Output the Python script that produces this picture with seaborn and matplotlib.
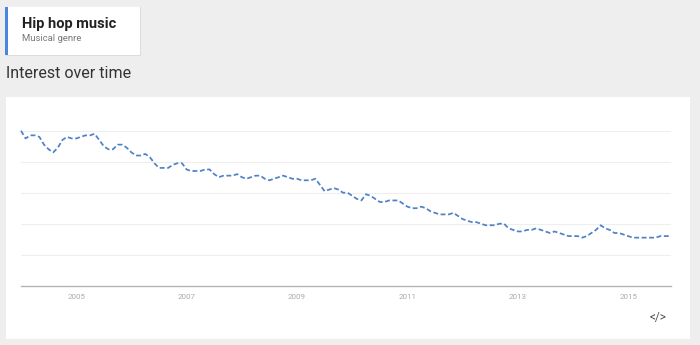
import numpy as np
import pandas as pd
import matplotlib
matplotlib.use("Agg")
import matplotlib.pyplot as plt
from matplotlib.patches import Rectangle
import seaborn as sns

# ---- data (monthly search interest, Jan 2004 .. Oct 2015) ----
start_year = 2004
interest = [100, 95, 97, 97, 96, 91, 88, 86, 89, 94, 96, 95,
            95, 96, 97, 97, 98, 94, 90, 88, 88, 91, 91, 89,
            86, 84, 84, 85, 83, 79, 76, 76, 76, 78, 79, 79,
            75, 74, 74, 74, 75, 75, 72, 70, 71, 71, 71, 72,
            70, 69, 70, 71, 71, 69, 68, 69, 70, 71, 70, 69,
            69, 68, 68, 68, 69, 65, 61, 62, 63, 62, 60, 60,
            58, 56, 55, 59, 58, 56, 54, 54, 55, 55, 55, 53,
            51, 50, 50, 51, 50, 48, 47, 46, 46, 46, 47, 45,
            43, 42, 41, 41, 40, 39, 39, 39, 40, 40, 37, 36,
            35, 35, 36, 36, 37, 36, 35, 34, 35, 34, 33, 32,
            32, 32, 31, 32, 34, 36, 39, 37, 36, 34, 34, 33,
            32, 31, 31, 31, 31, 31, 31, 32, 32, 32]
tick_years = [2005, 2007, 2009, 2011, 2013, 2015]
title = "Hip hop music"
subtitle = "Musical genre"
section = "Interest over time"

df = pd.DataFrame({"month": np.arange(len(interest)), "interest": interest})

# ---- figure ----
W, H = 700, 345
sns.set_theme(style="white")
plt.rcParams["font.family"] = ["Roboto", "DejaVu Sans"]
fig = plt.figure(figsize=(W / 100, H / 100), dpi=100, facecolor="#eeeeee")

def fx(px):
    return px / W

def fy(py):
    return 1 - py / H

# white chart panel
fig.patches.append(Rectangle((fx(6), fy(339)), fx(690) - fx(6), fy(97) - fy(339),
                             transform=fig.transFigure, facecolor="white",
                             edgecolor="none", zorder=0))
# header card shadow + card + blue left bar
fig.patches.append(Rectangle((fx(6), fy(56)), fx(141) - fx(6), fy(7) - fy(56),
                             transform=fig.transFigure, facecolor="#dcdcdc",
                             edgecolor="none", zorder=0))
fig.patches.append(Rectangle((fx(5), fy(55)), fx(140) - fx(5), fy(7) - fy(55),
                             transform=fig.transFigure, facecolor="white",
                             edgecolor="none", zorder=1))
fig.patches.append(Rectangle((fx(5), fy(55)), fx(8) - fx(5), fy(7) - fy(55),
                             transform=fig.transFigure, facecolor="#4a86e0",
                             edgecolor="none", zorder=2))

fig.text(fx(22), fy(24), title, fontsize=10.5, fontweight="bold",
         color="#222222", va="center", ha="left")
fig.text(fx(22), fy(38.5), subtitle, fontsize=6.8, color="#777777",
         va="center", ha="left")
fig.text(fx(6), fy(73), section, fontsize=11.5, color="#333333",
         va="center", ha="left")
fig.text(fx(658), fy(318), "</>", fontsize=8.5, color="#555555",
         va="center", ha="center")

# ---- axes ----
ax_left, ax_right = 21, 671
ax_top, ax_bottom = 130.7, 285.7
ax = fig.add_axes([fx(ax_left), fy(ax_bottom), fx(ax_right) - fx(ax_left),
                   fy(ax_top) - fy(ax_bottom)])
ax.set_zorder(5)
ax.set_facecolor("white")

sns.lineplot(data=df, x="month", y="interest", ax=ax, color="#4f80c8",
             linewidth=1.25)
ax.lines[0].set_linestyle((0, (2.8, 1.5)))
ax.lines[0].set_clip_on(False)

ax.set_xlim(0, (ax_right - ax_left) / 4.6)
ax.set_ylim(0, 100)
ax.set_yticks([20, 40, 60, 80, 100])
ax.set_yticklabels([])
ax.yaxis.grid(True, color="#eeeeee", linewidth=0.8)
ax.xaxis.grid(False)
ax.set_xticks([(y - start_year) * 12 for y in tick_years])
ax.set_xticklabels([str(y) for y in tick_years])
ax.tick_params(axis="x", length=0, labelsize=5.8, labelcolor="#aaaaaa", pad=6)
ax.tick_params(axis="y", length=0)
ax.set_xlabel("")
ax.set_ylabel("")
for s in ["top", "left", "right"]:
    ax.spines[s].set_visible(False)
ax.spines["bottom"].set_color("#b3b3b3")
ax.spines["bottom"].set_linewidth(1.0)

fig.savefig("out.png", dpi=100, facecolor=fig.get_facecolor())
